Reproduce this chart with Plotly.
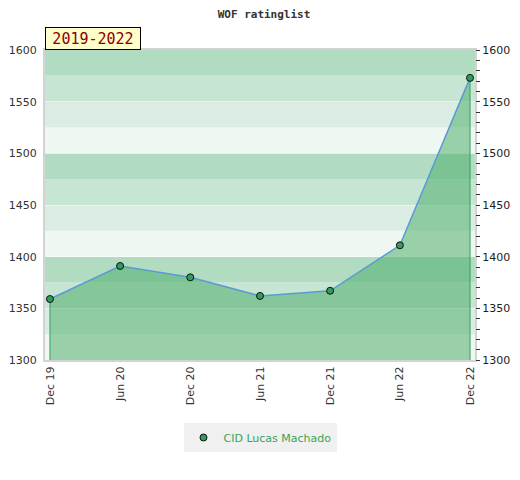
import plotly.graph_objects as go

dates = ["2019-12-01", "2020-06-01", "2020-12-01", "2021-06-01",
         "2021-12-01", "2022-06-01", "2022-12-01"]
tick_text = ["Dec 19", "Jun 20", "Dec 20", "Jun 21", "Dec 21", "Jun 22", "Dec 22"]
ratings = [1359, 1391, 1380, 1362, 1367, 1411, 1573]
player = "CID Lucas Machado"
period = "2019-2022"
y_min, y_max = 1300, 1600

band_colors = ["#eef7f1", "#dbede3", "#c6e5d3", "#b2dcc2"]

fig = go.Figure()

# striped background, 25 points per band
shapes = []
for i, lo in enumerate(range(y_min, y_max, 25)):
    shapes.append(dict(type="rect", xref="paper", yref="y", x0=0, x1=1,
                       y0=lo, y1=lo + 25, fillcolor=band_colors[i % 4],
                       line=dict(width=0), layer="below"))

fig.add_trace(go.Scatter(x=dates, y=ratings, mode="lines", fill="tozeroy",
                         fillcolor="rgba(68,170,100,0.5)",
                         line=dict(color="#5b9bd5", width=1.5),
                         showlegend=False, hoverinfo="skip"))
# green edges of the area
for k in [0, -1]:
    fig.add_trace(go.Scatter(x=[dates[k], dates[k]], y=[y_min, ratings[k]],
                             mode="lines", line=dict(color="#34a058", width=1),
                             showlegend=False, hoverinfo="skip"))
fig.add_trace(go.Scatter(x=dates, y=ratings, mode="markers", name=player,
                         marker=dict(color="#2e9e5a", size=7,
                                     line=dict(color="#111", width=1))))
# invisible trace just to get the right axis
fig.add_trace(go.Scatter(x=dates, y=ratings, yaxis="y2", mode="markers",
                         marker=dict(opacity=0), showlegend=False, hoverinfo="skip"))

# page body adds ~8px, so the figure is a bit smaller than the window
fig.update_layout(
    width=512, height=472,
    margin=dict(l=37, r=45, t=42, b=120, autoexpand=False),
    paper_bgcolor="white", plot_bgcolor="white",
    shapes=shapes,
    title=dict(text="<b>" + "WOF ratinglist" + "</b>", x=0.5, xanchor="center",
               y=0.988, yanchor="middle",
               font=dict(family="DejaVu Sans Mono", size=11, color="#333")),
    xaxis=dict(type="date", range=["2019-11-18", "2022-12-14"], automargin=False,
               tickvals=dates, ticktext=tick_text, tickangle=-90,
               showgrid=False, zeroline=False, ticks="",
               showline=True, linecolor="#d3d3d3", linewidth=2, mirror=True,
               tickfont=dict(family="DejaVu Sans", size=11, color="#333")),
    yaxis=dict(range=[y_min, y_max], dtick=50, showgrid=True, automargin=False,
               gridcolor="rgba(255,255,255,0.45)", gridwidth=1,
               zeroline=False, ticks="", ticklabelstandoff=4,
               showline=True, linecolor="#d3d3d3", linewidth=2, mirror=True,
               tickfont=dict(family="DejaVu Sans", size=11, color="#333")),
    yaxis2=dict(range=[y_min, y_max], dtick=50, overlaying="y", side="right",
                automargin=False,
                showgrid=False, zeroline=False, ticks="outside", ticklen=4,
                tickcolor="#333", minor=dict(dtick=10, ticks="outside", ticklen=4,
                                             tickcolor="#333"),
                tickfont=dict(family="DejaVu Sans", size=11, color="#222")),
    legend=dict(orientation="h", x=0.5, xanchor="center", y=-0.25, yanchor="middle",
                bgcolor="#f0f0f0", itemwidth=30,
                font=dict(family="DejaVu Sans", size=11, color="#3aa35a")),
    annotations=[dict(text=period, xref="paper", yref="paper", x=0, y=1,
                      xanchor="left", yanchor="bottom", showarrow=False,
                      bgcolor="#ffffcc", bordercolor="#000", borderwidth=1,
                      width=92, height=19, align="center",
                      font=dict(family="DejaVu Sans Mono", size=15, color="#8b0000"))],
)

fig.write_html("out.html")
